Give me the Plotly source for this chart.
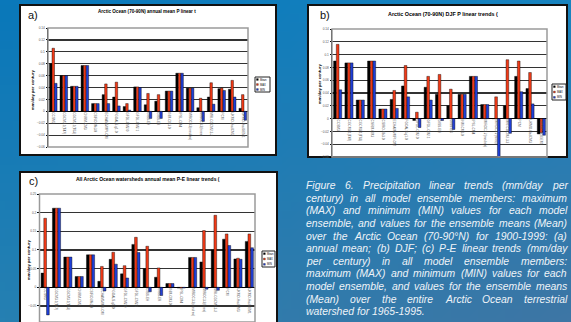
import base64, struct, zlib
import numpy as np
import plotly.graph_objects as go

W, H = 571, 322

# ---------------- data ----------------
models = ["CCSM3", "CGCM3.1(T47)", "CGCM3.1(T63)", "CNRM-CM3", "CSIRO-Mk3.0",
          "ECHAM5/MPI-OM", "FGOALS-g1.0", "GFDL-CM2.0", "GFDL-CM2.1", "GISS-EH",
          "GISS-ER", "INM-CM3.0", "IPSL-CM4", "MIROC3.2(medres)", "MIROC3.2(hires)",
          "MRI-CGCM2.3.2", "PCM", "UKMO-HadCM3", "UKMO-HadGEM1"]
series_names = ["Mean", "MAX", "MIN"]

a_mean = [0.080, 0.060, 0.042, 0.077, 0.013, 0.028, 0.024, 0.008, 0.041, 0.011,
          0.017, 0.034, 0.064, 0.039, 0.006, 0.024, 0.038, 0.037, 0.005]
a_max = [0.106, 0.060, 0.042, 0.077, 0.013, 0.046, 0.049, 0.013, 0.041, 0.030,
         0.028, 0.034, 0.064, 0.039, 0.022, 0.048, 0.039, 0.052, 0.028]
a_min = [0.047, 0.060, 0.042, 0.077, 0.013, 0.013, 0.009, 0.002, 0.040, -0.012,
         -0.012, 0.034, 0.064, 0.039, -0.017, 0.012, 0.035, 0.024, -0.015]

b_mean = [0.090, 0.087, 0.029, 0.090, 0.015, 0.030, 0.051, -0.003, 0.049, 0.038,
          0.020, 0.038, 0.066, 0.022, 0.000, 0.020, 0.066, 0.047, -0.024]
b_max = [0.116, 0.087, 0.029, 0.090, 0.015, 0.044, 0.083, 0.010, 0.066, 0.069,
         0.046, 0.038, 0.066, 0.022, 0.034, 0.092, 0.090, 0.072, -0.022]
b_min = [0.045, 0.087, 0.029, 0.090, 0.015, 0.016, 0.034, -0.014, 0.029, -0.003,
         -0.017, 0.038, 0.066, 0.022, -0.062, -0.023, 0.042, 0.023, -0.026]

c_mean = [0.038, 0.212, 0.081, 0.029, 0.087, 0.016, 0.075, 0.036, 0.115, 0.050,
          0.027, 0.010, -0.002, 0.080, 0.068, 0.100, 0.129, 0.076, 0.123]
c_max = [0.185, 0.212, 0.081, 0.029, 0.087, 0.056, 0.094, 0.058, 0.134, 0.110,
         0.052, 0.010, -0.002, 0.080, 0.152, 0.193, 0.143, 0.078, 0.143]
c_min = [-0.074, 0.212, 0.081, 0.029, 0.087, -0.010, 0.062, 0.025, 0.093, -0.012,
         -0.022, 0.010, -0.002, 0.080, -0.005, -0.008, 0.112, 0.075, 0.106]

titles = ["Arctic Ocean (70-90N) annual mean P linear t",
          "Arctic Ocean (70-90N) DJF P linear trends (",
          "All Arctic Ocean watersheds annual mean P-E linear trends ("]
panel_tags = ["a)", "b)", "c)"]
y_title = "mm/day per century"

caption_lines = [
    "Figure 6. Precipitation linear trends (mm/day per",
    "century) in all model ensemble members: maximum",
    "(MAX) and minimum (MIN) values for each model",
    "ensemble, and values for the ensemble means (Mean)",
    "over the Arctic Ocean (70-90°N) for 1900-1999: (a)",
    "annual mean; (b) DJF; (c) P-E linear trends (mm/day",
    "per century) in all model ensemble members:",
    "maximum (MAX) and minimum (MIN) values for each",
    "model ensemble, and values for the ensemble means",
    "(Mean) over the entire Arctic Ocean terrestrial",
    "watershed for 1965-1995.",
]

colors = ["#000000", "#f03a17", "#1f3fd6"]

# ---------------- background gradient image ----------------
def gradient_png(w, h, c00, c10, c01, c11):
    c00, c10, c01, c11 = [np.array(c, float) for c in (c00, c10, c01, c11)]
    xs = np.linspace(0, 1, w)[None, :, None]
    ys = np.linspace(0, 1, h)[:, None, None]
    img = (c00 * (1 - xs) * (1 - ys) + c10 * xs * (1 - ys)
           + c01 * (1 - xs) * ys + c11 * xs * ys)
    img = np.clip(img, 0, 255).astype(np.uint8)
    raw = b"".join(b"\x00" + img[r].tobytes() for r in range(h))
    def chunk(t, d):
        c = struct.pack(">I", len(d)) + t + d
        return c + struct.pack(">I", zlib.crc32(t + d) & 0xffffffff)
    png = (b"\x89PNG\r\n\x1a\n" + chunk(b"IHDR", struct.pack(">IIBBBBB", w, h, 8, 2, 0, 0, 0))
           + chunk(b"IDAT", zlib.compress(raw)) + chunk(b"IEND", b""))
    return "data:image/png;base64," + base64.b64encode(png).decode()

bg = gradient_png(64, 36, (10, 120, 186), (24, 132, 192), (38, 128, 178), (62, 118, 165))

# ---------------- Arial-like widths for justified caption ----------------
ARIAL = {' ': 278, '(': 333, ')': 333, ',': 278, '-': 333, '.': 278, '/': 278, ':': 278,
         ';': 278, '°': 400,
         'A': 667, 'B': 667, 'C': 722, 'D': 722, 'E': 667, 'F': 611, 'G': 778, 'H': 722,
         'I': 278, 'J': 500, 'K': 667, 'L': 556, 'M': 833, 'N': 722, 'O': 778, 'P': 667,
         'Q': 778, 'R': 722, 'S': 667, 'T': 611, 'U': 722, 'V': 667, 'W': 944, 'X': 667,
         'Y': 667, 'Z': 611,
         'a': 556, 'b': 556, 'c': 500, 'd': 556, 'e': 556, 'f': 278, 'g': 556, 'h': 556,
         'i': 222, 'j': 222, 'k': 500, 'l': 222, 'm': 833, 'n': 556, 'o': 556, 'p': 556,
         'q': 556, 'r': 333, 's': 500, 't': 278, 'u': 556, 'v': 500, 'w': 722, 'x': 500,
         'y': 500, 'z': 500}

def text_w(s, size):
    return sum(ARIAL.get(ch, 556) for ch in s) * size / 1000.0

# ---------------- figure ----------------
fig = go.Figure()

def px_x(p):
    return p / W

def px_y(p):
    return 1 - p / H

panels = [
    dict(box=(48, 248, 28, 147), yr=(-0.06, 0.14), dt=0.02, data=(a_mean, a_max, a_min),
         frame=(20, 276, 5, 155), title_xy=(147, 11, 4.6), tag_xy=(33, 15),
         ytitle_xy=(33, 90), legend=(255, 270, 77, 92)),
    dict(box=(332, 547, 29, 157), yr=(-0.06, 0.14), dt=0.02, data=(b_mean, b_max, b_min),
         frame=(308, 567, 5, 157), title_xy=(443, 14, 5.4), tag_xy=(325, 15),
         ytitle_xy=(319, 84), legend=(552, 566, 84, 100)),
    dict(box=(39.5, 255, 194, 322), yr=(-0.093, 0.25), dt=0.05, data=(c_mean, c_max, c_min),
         frame=(20, 277, 172, 326), title_xy=(148, 179, 5.0), tag_xy=(33, 181),
         ytitle_xy=(28, 260), legend=(262, 275, 251, 267)),
]

shapes, annos = [], []
for i, p in enumerate(panels):
    sfx = "" if i == 0 else str(i + 1)
    xa, ya = "x" + sfx, "y" + sfx
    x0, x1, yt, yb = p["box"]
    ydom = [px_y(yb), px_y(yt)]
    lo, hi = p["yr"]
    zero_pos = ydom[0] + (0 - lo) / (hi - lo) * (ydom[1] - ydom[0])
    for s in range(3):
        fig.add_trace(go.Bar(x=models, y=p["data"][s], name=series_names[s],
                             marker=dict(color=colors[s], line=dict(color="#000", width=0.4)),
                             xaxis=xa, yaxis=ya, showlegend=False))
    fig.update_layout(**{
        "xaxis" + sfx: dict(domain=[px_x(x0), px_x(x1)], anchor="free", position=zero_pos,
                            showgrid=False, showline=False, ticks="", tickangle=90,
                            tickfont=dict(size=3.2, color="#555", family="Arial"),
                            automargin=False, fixedrange=True),
        "yaxis" + sfx: dict(domain=ydom, range=[lo, hi], dtick=p["dt"], anchor=xa,
                            showgrid=True, gridcolor="#333333", gridwidth=1.2,
                            zeroline=True, zerolinecolor="#000", zerolinewidth=1,
                            showline=True, linecolor="#000", linewidth=1,
                            ticks="outside", ticklen=1.5, tickcolor="#000",
                            tickfont=dict(size=3.2, color="#555", family="Arial"),
                            automargin=False, fixedrange=True),
    })
    fx0, fx1, fyt, fyb = p["frame"]
    shapes.append(dict(type="rect", xref="paper", yref="paper", layer="below",
                       x0=px_x(fx0), x1=px_x(fx1), y0=px_y(fyb), y1=px_y(fyt),
                       fillcolor="#ffffff", line=dict(color="#111", width=2)))
    shapes.append(dict(type="rect", xref=xa + " domain", yref=ya + " domain",
                       x0=0, x1=1, y0=0, y1=1, line=dict(color="#9a9a9a", width=1.5)))
    tx, ty, tsz = p["title_xy"]
    annos.append(dict(text="<b>" + titles[i] + "</b>", x=px_x(tx), y=px_y(ty),
                      xref="paper", yref="paper", showarrow=False,
                      xanchor="center", yanchor="middle",
                      font=dict(size=tsz, color="#000", family="Arial")))
    annos.append(dict(text=panel_tags[i], x=px_x(p["tag_xy"][0]), y=px_y(p["tag_xy"][1]),
                      xref="paper", yref="paper", showarrow=False,
                      xanchor="center", yanchor="middle",
                      font=dict(size=11, color="#111", family="Liberation Sans, Arial")))
    annos.append(dict(text="<b>" + y_title + "</b>", x=px_x(p["ytitle_xy"][0]),
                      y=px_y(p["ytitle_xy"][1]), xref="paper", yref="paper",
                      showarrow=False, textangle=-90, xanchor="center", yanchor="middle",
                      font=dict(size=4.2, color="#000", family="Arial")))
    lx0, lx1, lyt, lyb = p["legend"]
    shapes.append(dict(type="rect", xref="paper", yref="paper",
                       x0=px_x(lx0), x1=px_x(lx1), y0=px_y(lyb), y1=px_y(lyt),
                       fillcolor="#fff", line=dict(color="#222", width=1)))
    step = (lyb - lyt) / 3.0
    for s in range(3):
        cy = lyt + step * (s + 0.5)
        shapes.append(dict(type="rect", xref="paper", yref="paper",
                           x0=px_x(lx0 + 1.5), x1=px_x(lx0 + 3.3),
                           y0=px_y(cy + 0.9), y1=px_y(cy - 0.9),
                           fillcolor=colors[s], line=dict(color="#000", width=0.3)))
        annos.append(dict(text=series_names[s], x=px_x(lx0 + 3.6), y=px_y(cy),
                          xref="paper", yref="paper", showarrow=False, xanchor="left",
                          yanchor="middle", borderpad=0,
                          font=dict(size=2.6, color="#000", family="Arial")))

# caption, justified word by word
cap_size = 10.4
cap_left, cap_right = 306.0, 567.0
for k, line in enumerate(caption_lines):
    yy = px_y(185.7 + 12.6 * k)
    words = line.split(" ")
    widths = [text_w(w_, cap_size) for w_ in words]
    last = (k == len(caption_lines) - 1)
    if last or len(words) == 1:
        gap = text_w(" ", cap_size)
    else:
        gap = (cap_right - cap_left - sum(widths)) / (len(words) - 1)
    xpos = cap_left
    for w_, wd in zip(words, widths):
        annos.append(dict(text="<i>" + w_ + "</i>", x=px_x(xpos), y=yy,
                          xref="paper", yref="paper", showarrow=False, xanchor="left",
                          yanchor="middle", borderpad=0, borderwidth=0,
                          font=dict(size=cap_size, color="#eef3f8",
                                    family="Liberation Sans, Arial")))
        xpos += wd + gap

fig.update_layout(
    width=W, height=H, margin=dict(l=0, r=0, t=0, b=0),
    paper_bgcolor="#1f7db6", plot_bgcolor="#ffffff",
    barmode="group", bargap=0.28, bargroupgap=0,
    shapes=shapes, annotations=annos, hovermode=False,
    images=[dict(source=bg, xref="paper", yref="paper", x=0, y=1, sizex=1, sizey=1,
                 sizing="stretch", layer="below", xanchor="left", yanchor="top")],
)

fig.write_html("out.html",
               config={"displayModeBar": False, "staticPlot": True},
               post_script="document.body.style.margin='0px';"
                           "document.body.style.padding='0px';"
                           "document.body.style.overflow='hidden';")
